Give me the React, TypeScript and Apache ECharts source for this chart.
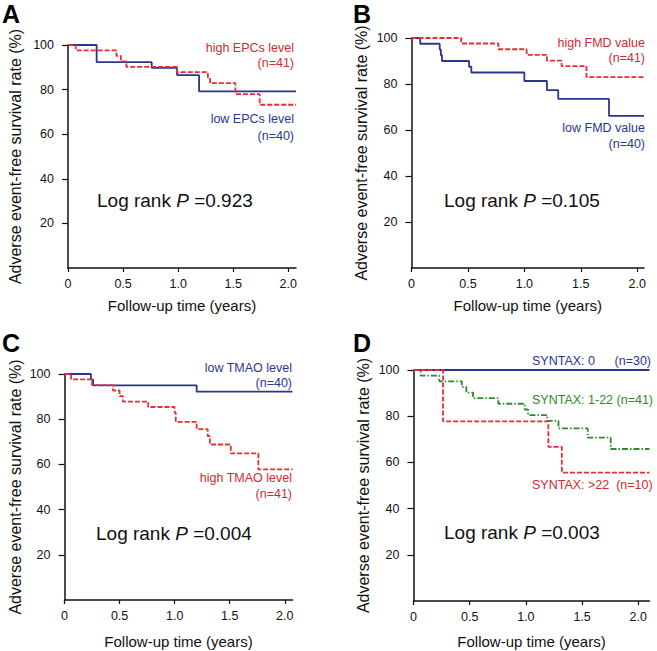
import { useEffect, useRef } from "react";
import * as echarts from "echarts";

const FONT = "'Liberation Sans', Arial, Helvetica, sans-serif";
const RED = "#ec2c2f";
const RED_TEXT = "#d22a2e";
const BLUE = "#2b3590";
const GREEN = "#2f8a2f";

const xTicks = [0, 0.5, 1.0, 1.5, 2.0];
const yTicks = [20, 40, 60, 80, 100];
const xTitle = "Follow-up time (years)";
const yTitle = "Adverse event-free survival rate (%)";

// Panel A
const aLowT = [0, 0.26, 0.76, 0.99, 1.19, 2.07];
const aLowS = [100, 92.3, 89.7, 86.5, 79.2, 79.2];
const aHighT = [0, 0.07, 0.44, 0.48, 0.53, 0.99, 1.27, 1.29, 1.52, 1.74, 2.07];
const aHighS = [100, 97.6, 95.1, 92.7, 90.2, 87.8, 85.4, 82.9, 78.0, 73.2, 73.2];

// Panel B
const bHighT = [0, 0.44, 0.77, 1.02, 1.2, 1.33, 1.55, 2.06];
const bHighS = [100, 97.6, 95.1, 92.7, 90.2, 87.8, 83.0, 83.0];
const bLowT = [0, 0.077, 0.25, 0.26, 0.27, 0.51, 0.53, 1.0, 1.2, 1.3, 1.75, 2.06];
const bLowS = [100, 97.5, 95, 92.5, 90, 87.5, 85, 81.3, 77.3, 73.5, 66.1, 66.1];

// Panel C
const cLowT = [0, 0.24, 0.26, 1.2, 2.07];
const cLowS = [100, 97.5, 95, 92.2, 92.2];
const cHighT = [0, 0.06, 0.25, 0.44, 0.5, 0.53, 0.76, 1.0, 1.01, 1.2, 1.3, 1.32, 1.51, 1.76, 2.07];
const cHighS = [100, 97.6, 95.1, 92.7, 90.2, 87.8, 85.4, 82.9, 78.8, 75.6, 72.5, 68.8, 64.9, 57.8, 57.8];

// Panel D
const dZeroT = [0, 2.1];
const dZeroS = [100, 100];
const dHighT = [0, 0.263, 1.2, 1.32, 2.1];
const dHighS = [100, 77.8, 66.7, 55.6, 55.6];
const dMidT = [0, 0.063, 0.23, 0.43, 0.47, 0.53, 0.755, 0.99, 1.02, 1.19, 1.29, 1.55, 1.755, 2.1];
const dMidS = [100, 97.6, 95.1, 92.7, 90.2, 87.8, 85.4, 82.9, 80.5, 78.0, 74.7, 70.7, 65.8, 65.8];

const pValues = ["0.923", "0.105", "0.004", "0.003"];
const panelLetters = ["A", "B", "C", "D"];

const zip = (t: number[], s: number[]) => t.map((v, i) => [v, s[i]]);

const grids = [
  { left: 68, top: 45, width: 228, height: 223, xMax: 2.07, xGap: 30, yGap: 45 },
  { left: 411.5, top: 38, width: 232.5, height: 230, xMax: 2.06, xGap: 30, yGap: 42 },
  { left: 64.5, top: 374, width: 228, height: 226, xMax: 2.07, xGap: 34, yGap: 41 },
  { left: 413.5, top: 370, width: 236, height: 231, xMax: 2.1, xGap: 33, yGap: 42 },
];

export default function App() {
  const ref = useRef<HTMLDivElement>(null);
  useEffect(() => {
    if (!ref.current) return;
    const chart = echarts.init(ref.current, undefined, { renderer: "svg" });

    const xAxis = grids.map((g, i) => ({
      type: "value",
      gridIndex: i,
      min: 0,
      max: g.xMax,
      name: xTitle,
      nameLocation: "middle",
      nameGap: g.xGap,
      nameTextStyle: { fontFamily: FONT, fontSize: 15, color: "#111" },
      axisLine: { show: true, onZero: false, lineStyle: { color: "#111", width: 1.5 } },
      axisTick: { show: true, inside: false, length: 4, customValues: xTicks, lineStyle: { color: "#111", width: 1.2 } },
      axisLabel: {
        customValues: xTicks,
        margin: 9,
        fontFamily: FONT,
        fontSize: 12.5,
        color: "#111",
        formatter: (v: number) => (v === 0 ? "0" : v.toFixed(1)),
      },
      splitLine: { show: false },
    }));

    const yAxis = grids.map((g, i) => ({
      type: "value",
      gridIndex: i,
      min: 0,
      max: 100,
      name: yTitle,
      nameLocation: "middle",
      nameGap: g.yGap,
      nameTextStyle: { fontFamily: FONT, fontSize: 16, color: "#111" },
      axisLine: { show: true, onZero: false, lineStyle: { color: "#111", width: 1.5 } },
      axisTick: { show: true, inside: false, length: 6, customValues: yTicks, lineStyle: { color: "#111", width: 1.2 } },
      axisLabel: {
        customValues: yTicks,
        margin: 14,
        fontFamily: FONT,
        fontSize: 12.5,
        color: "#111",
      },
      splitLine: { show: false },
    }));

    const mk = (name: string, idx: number, t: number[], s: number[], color: string, type: any, width = 1.8) => ({
      name,
      type: "line",
      xAxisIndex: idx,
      yAxisIndex: idx,
      step: "end",
      showSymbol: false,
      symbol: "none",
      data: zip(t, s),
      lineStyle: { color, width, type },
      z: 3,
    });

    const series = [
      mk("low EPCs level", 0, aLowT, aLowS, BLUE, "solid"),
      mk("high EPCs level", 0, aHighT, aHighS, RED, [5, 2]),
      mk("low FMD value", 1, bLowT, bLowS, BLUE, "solid"),
      mk("high FMD value", 1, bHighT, bHighS, RED, [5, 2]),
      mk("low TMAO level", 2, cLowT, cLowS, BLUE, "solid"),
      mk("high TMAO level", 2, cHighT, cHighS, RED, [5, 2]),
      mk("SYNTAX: 0", 3, dZeroT, dZeroS, BLUE, "solid"),
      mk("SYNTAX: 1-22", 3, dMidT, dMidS, GREEN, [6, 2, 1.5, 2]),
      mk("SYNTAX: >22", 3, dHighT, dHighS, RED, [5, 2]),
    ];

    const txt = (text: string, x: number, y: number, color: string, align = "right", size = 12.5) => ({
      type: "text",
      x,
      y,
      silent: true,
      style: { text, fill: color, font: `${size}px ${FONT}`, align, verticalAlign: "middle" },
    });

    const logRank = (x: number, y: number, p: string) => ({
      type: "text",
      x,
      y,
      silent: true,
      style: {
        text: `{a|Log rank }{p|P}{a| =${p}}`,
        verticalAlign: "middle",
        align: "left",
        rich: {
          a: { fontFamily: FONT, fontSize: 19, fill: "#111", color: "#111" },
          p: { fontFamily: FONT, fontSize: 19, fontStyle: "italic", fill: "#111", color: "#111" },
        },
      },
    });

    const letter = (l: string, x: number, y: number) => ({
      type: "text",
      x,
      y,
      silent: true,
      style: { text: l, fill: "#000", font: `bold 25px ${FONT}`, align: "left", verticalAlign: "middle" },
    });

    const graphic = [
      letter(panelLetters[0], 2, 14),
      letter(panelLetters[1], 353, 14),
      letter(panelLetters[2], 2, 343),
      letter(panelLetters[3], 353, 343),
      txt("high EPCs level", 294, 48, RED_TEXT),
      txt("(n=41)", 294, 63, RED_TEXT),
      txt("low EPCs level", 294, 119, BLUE),
      txt("(n=40)", 294, 136, BLUE),
      logRank(97, 200, pValues[0]),
      txt("high FMD value", 645, 43, RED_TEXT),
      txt("(n=41)", 645, 58, RED_TEXT),
      txt("low FMD value", 645, 128, BLUE),
      txt("(n=40)", 645, 144, BLUE),
      logRank(444, 200, pValues[1]),
      txt("low TMAO level", 292, 368, BLUE),
      txt("(n=40)", 292, 383, BLUE),
      txt("high TMAO level", 292, 478, RED_TEXT),
      txt("(n=41)", 292, 494, RED_TEXT),
      logRank(96, 533, pValues[2]),
      txt("SYNTAX: 0", 532, 361, BLUE, "left"),
      txt("(n=30)", 651, 361, BLUE),
      txt("SYNTAX: 1-22 (n=41)", 532, 400, GREEN, "left"),
      txt("SYNTAX: >22  (n=10)", 532, 485, RED_TEXT, "left"),
      logRank(444, 532, pValues[3]),
    ];

    chart.setOption({
      animation: false,
      backgroundColor: "#fff",
      grid: grids.map((g) => ({
        left: g.left,
        top: g.top,
        width: g.width,
        height: g.height,
        containLabel: false,
        outerBoundsMode: "none",
      })),
      xAxis,
      yAxis,
      series,
      graphic,
    });
    return () => chart.dispose();
  }, []);
  return <div ref={ref} style={{ position: "absolute", left: 0, top: 0, width: 657, height: 651 }} />;
}
